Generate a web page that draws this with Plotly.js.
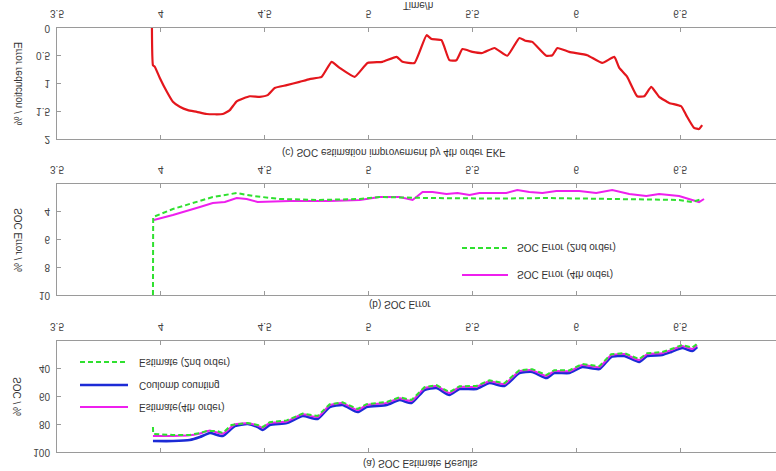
<!DOCTYPE html>
<html>
<head>
<meta charset="utf-8">
<script src="https://cdn.plot.ly/plotly-3.0.1.min.js"></script>
<style>
html,body{margin:0;padding:0;overflow:hidden;background:#fff;width:776px;height:471px;}
#plot{width:790px;height:471px;transform:scaleY(-1);transform-origin:50% 50%;}
</style>
</head>
<body>
<div id="plot"></div>
<script>
// ---- Data (time in hours) ----
var xTicks = [3.5, 4, 4.5, 5, 5.5, 6, 6.5];
var xTickText = ["3.5", "4", "4.5", "5", "5.5", "6", "6.5"];

// (a) SOC estimate results
var tCoulomb = [3.962,4.058,4.139,4.188,4.236,4.298,4.356,4.418,4.466,4.490,4.524,4.606,4.683,4.755,4.813,4.875,4.947,4.990,5.087,5.149,5.207,5.269,5.327,5.389,5.438,5.519,5.582,5.654,5.726,5.788,5.856,5.894,5.966,6.029,6.111,6.168,6.231,6.303,6.341,6.413,6.457,6.510,6.558,6.582];
var socCoulomb = [92.1,92.1,91.4,89.2,86.3,88.5,81.3,79.8,82.0,84.1,80.5,79.1,74.1,76.2,67.6,66.1,71.2,67.6,66.1,62.5,64.7,55.3,53.9,58.9,54.6,54.6,50.3,52.4,43.1,42.3,46.7,43.1,43.1,38.7,40.2,31.5,30.8,35.1,30.8,30.1,27.9,25.0,27.2,24.3];
var tEst4 = tCoulomb;
var socEst4 = [88.4,88.4,88.0,86.6,84.5,86.8,80.0,79.3,81.0,82.5,79.0,78.0,72.8,74.8,66.2,64.8,69.8,66.2,64.6,61.2,63.2,54.0,52.5,57.5,53.2,53.0,49.0,51.0,41.7,41.0,45.2,41.7,41.8,37.3,38.8,30.2,29.4,33.7,29.5,28.8,26.5,23.6,25.7,23.0];
var tEst2 = [3.962,3.963,4.058,4.139,4.188,4.220,4.270,4.298,4.340,4.380,4.418,4.466,4.490,4.524,4.606,4.683,4.755,4.813,4.875,4.947,4.990,5.087,5.149,5.207,5.269,5.327,5.389,5.438,5.519,5.582,5.654,5.726,5.788,5.856,5.894,5.966,6.029,6.111,6.168,6.231,6.303,6.341,6.413,6.457,6.510,6.558,6.582];
var socEst2 = [82.0,87.0,87.7,87.7,86.3,84.9,84.9,86.3,80.5,79.8,79.1,80.5,82.0,78.5,77.2,72.3,74.0,65.6,64.2,69.0,65.5,64.0,60.6,62.5,53.3,51.8,56.8,52.6,52.4,48.3,50.4,41.0,40.3,44.5,41.0,41.2,36.6,38.1,29.5,28.7,33.0,28.8,28.0,25.8,22.9,24.8,22.0];

// (b) SOC error
var tErr2 = [3.962,3.963,4.058,4.188,4.250,4.365,4.442,4.572,4.764,4.957,5.053,5.293,5.600,5.856,6.111,6.495,6.558,6.606];
var err2 = [10,4.38,3.80,3.23,2.94,2.65,2.86,3.08,3.15,3.08,2.94,3.01,3.05,3.01,3.08,3.15,3.30,3.08];
var tErr4 = [3.966,4.058,4.188,4.250,4.308,4.365,4.413,4.466,4.620,4.812,4.957,5.053,5.149,5.212,5.260,5.308,5.375,5.428,5.486,5.534,5.663,5.716,5.774,5.837,5.904,6.014,6.096,6.173,6.255,6.337,6.399,6.495,6.558,6.591,6.615];
var err4 = [4.59,4.23,3.66,3.37,3.30,3.01,3.08,3.30,3.23,3.23,3.15,2.94,2.94,3.15,2.58,2.58,2.72,2.65,2.79,2.65,2.65,2.43,2.58,2.65,2.50,2.50,2.65,2.43,2.72,2.86,2.72,2.86,3.15,3.30,3.08];

// (c) error reduction by 4th order EKF
var tRed = [3.957,3.962,3.971,3.995,4.029,4.058,4.091,4.130,4.173,4.221,4.298,4.332,4.365,4.428,4.476,4.514,4.548,4.606,4.668,4.716,4.774,4.822,4.861,4.933,4.995,5.067,5.135,5.163,5.221,5.279,5.303,5.351,5.389,5.423,5.452,5.500,5.548,5.606,5.668,5.726,5.755,5.788,5.856,5.885,5.909,5.966,6.053,6.125,6.183,6.207,6.245,6.293,6.327,6.361,6.399,6.447,6.505,6.529,6.567,6.591,6.606];
var errRed = [0,0.67,0.70,0.90,1.15,1.33,1.42,1.48,1.51,1.55,1.55,1.48,1.32,1.23,1.24,1.21,1.08,1.03,0.97,0.92,0.88,0.61,0.72,0.88,0.63,0.61,0.52,0.61,0.63,0.13,0.20,0.22,0.58,0.58,0.38,0.43,0.45,0.36,0.50,0.18,0.23,0.25,0.50,0.49,0.36,0.43,0.49,0.63,0.52,0.72,0.88,1.23,1.23,1.06,1.24,1.35,1.41,1.57,1.80,1.82,1.75];

var socTicks = [40, 60, 80, 100];
var errTicks = [4, 6, 8, 10];
var redTicks = [0, 0.5, 1, 1.5, 2];

var labels = {
  a: "(a) SOC Estimate Results",
  b: "(b) SOC Error",
  c: "(c) SOC estimation improvement by 4th order EKF",
  yA: "SOC / %",
  yB: "SOC Error / %",
  yC: "Error reduction / %",
  x: "Time/h",
  est2: "Estimate (2nd order)",
  coul: "Coulomb counting",
  est4: "Estimate(4th order)",
  e2: "SOC Error (2nd order)",
  e4: "SOC Error (4th order)"
};

// ---- Styles ----
var GREEN = "#2fe02f", MAGENTA = "#ee1fee", BLUE = "#1c2bd6", RED = "#e4161c";
var FONT = "Liberation Sans, Arial, sans-serif";

var traces = [
  {x: tCoulomb, y: socCoulomb, xaxis: "x", yaxis: "y", mode: "lines", line: {color: BLUE, width: 2.6, shape: "spline", smoothing: 0.5}, name: labels.coul},
  {x: tEst4, y: socEst4, xaxis: "x", yaxis: "y", mode: "lines", line: {color: MAGENTA, width: 2, shape: "spline", smoothing: 0.5}, name: labels.est4},
  {x: tEst2, y: socEst2, xaxis: "x", yaxis: "y", mode: "lines", line: {color: GREEN, width: 2, dash: "5px,3px"}, name: labels.est2},
  {x: tErr4, y: err4, xaxis: "x2", yaxis: "y2", mode: "lines", line: {color: MAGENTA, width: 2}, name: labels.e4},
  {x: tErr2, y: err2, xaxis: "x2", yaxis: "y2", mode: "lines", line: {color: GREEN, width: 2, dash: "5px,3px"}, name: labels.e2},
  {x: tRed, y: errRed, xaxis: "x3", yaxis: "y3", mode: "lines", line: {color: RED, width: 2.2, shape: "spline", smoothing: 0.4}, name: "reduction"}
];

function xa(anchor) {
  return {range: [3.5, 7], tickmode: "array", tickvals: xTicks, ticktext: xTickText,
    ticks: "inside", ticklen: 4, tickcolor: "#9a9a9a", showline: true, linecolor: "#9a9a9a", linewidth: 1,
    mirror: "ticks", showgrid: false, zeroline: false, anchor: anchor, ticklabelstandoff: 5,
    tickfont: {family: FONT, size: 10, color: "#444"}};
}
function ya(anchor, dom, rng, tv) {
  return {domain: dom, range: rng, tickmode: "array", tickvals: tv,
    ticks: "inside", ticklen: 4, tickcolor: "#9a9a9a", showline: true, linecolor: "#9a9a9a", linewidth: 1,
    mirror: "ticks", showgrid: false, zeroline: false, anchor: anchor, ticklabelstandoff: 4,
    tickfont: {family: FONT, size: 10, color: "#444"}};
}

var PW = 727, L = 57, H = 471;
function px(x) { return (x - L) / PW; }
function py(y) { return y / H; }   // y measured in displayed (flipped) pixels

var ann = [];
function txt(t, x, y, opts) {
  var a = {text: t, xref: "paper", yref: "paper", x: x, y: y, showarrow: false,
    font: {family: FONT, size: 10, color: "#333"}, xanchor: "center", yanchor: "middle"};
  for (var k in opts) a[k] = opts[k];
  ann.push(a);
}
txt(labels.a, px(420), py(463), {});
txt(labels.b, px(400), py(305), {});
txt(labels.c, px(393), py(153), {});
txt(labels.x, px(418), py(6), {});
txt(labels.yA, px(18), py(396), {textangle: -90});
txt(labels.yB, px(18), py(240), {textangle: -90});
txt(labels.yC, px(18), py(83), {textangle: -90});
// legend texts
txt(labels.est2, px(137), py(362), {xanchor: "left"});
txt(labels.coul, px(137), py(385), {xanchor: "left"});
txt(labels.est4, px(137), py(407), {xanchor: "left"});
txt(labels.e2, px(515), py(248), {xanchor: "left"});
txt(labels.e4, px(515), py(275), {xanchor: "left"});

function seg(x0, x1, y, color, w, dash) {
  return {type: "line", xref: "paper", yref: "paper", x0: px(x0), x1: px(x1), y0: py(y), y1: py(y),
    line: {color: color, width: w, dash: dash || "solid"}};
}
var shapes = [
  seg(80, 128, 362, GREEN, 2, "5px,3px"),
  seg(80, 128, 385, BLUE, 2.6),
  seg(80, 128, 407, MAGENTA, 2),
  seg(462, 508, 248, GREEN, 2, "5px,3px"),
  seg(462, 508, 275, MAGENTA, 2)
];

var layout = {
  width: 790, height: 471,
  margin: {l: L, r: 790 - L - PW, t: 0, b: 0},
  paper_bgcolor: "#fff", plot_bgcolor: "#fff",
  showlegend: false,
  xaxis: xa("y"), yaxis: ya("x", [341/471, 452/471], [20, 100], socTicks),
  xaxis2: xa("y2"), yaxis2: ya("x2", [184/471, 295/471], [2, 10], errTicks),
  xaxis3: xa("y3"), yaxis3: ya("x3", [28/471, 139/471], [0, 2], redTicks),
  annotations: ann,
  shapes: shapes
};

Plotly.newPlot("plot", traces, layout, {staticPlot: true, displayModeBar: false});
</script>
</body>
</html>
